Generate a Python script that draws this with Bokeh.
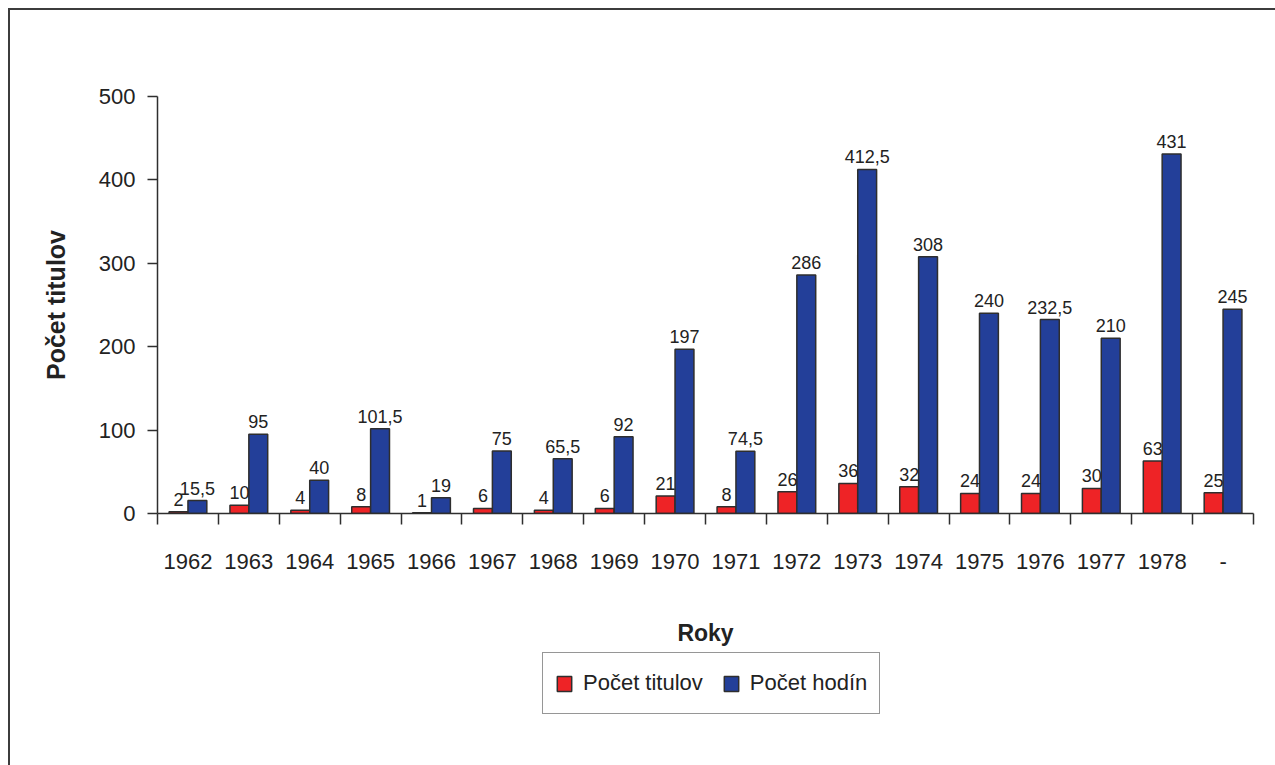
import numpy as np
from bokeh.plotting import figure
from bokeh.layouts import column
from bokeh.models import (Range1d, FixedTicker, ColumnDataSource, Legend, LegendItem, Label)
from bokeh.embed import file_html
from bokeh.resources import INLINE
from bokeh.core.properties import value

years = ["1962", "1963", "1964", "1965", "1966", "1967", "1968", "1969", "1970",
         "1971", "1972", "1973", "1974", "1975", "1976", "1977", "1978", "-"]
titulov = [2, 10, 4, 8, 1, 6, 4, 6, 21, 8, 26, 36, 32, 24, 24, 30, 63, 25]
hodin = [15.5, 95, 40, 101.5, 19, 75, 65.5, 92, 197, 74.5, 286, 412.5, 308, 240,
         232.5, 210, 431, 245]
y_ticks = [0, 100, 200, 300, 400, 500]
series_names = ["Počet titulov", "Počet hodín"]
x_title = "Roky"
y_title = "Počet titulov"

FONT = "'Liberation Sans Narrow', 'Arial Narrow', 'Liberation Sans', sans-serif"
BOLD = "'Liberation Sans', Arial, sans-serif"
RED = "#ee2326"
BLUE = "#233f99"
DARK = "#2e2e2e"
TXT = "#222222"


def fmt(v):
    return ("%g" % v).replace(".", ",")


idx = np.arange(len(years))
off = 0.155
bw = 0.31

src_r = ColumnDataSource(dict(x=idx - off, top=titulov, lab=[fmt(v) for v in titulov]))
src_b = ColumnDataSource(dict(x=idx + off, top=hodin, lab=[fmt(v) for v in hodin]))

p = figure(frame_width=1096, frame_height=417, output_backend="svg", toolbar_location=None,
           x_range=Range1d(-0.5, len(years) - 0.5), y_range=Range1d(0, 500),
           min_border_left=147, min_border_right=22, min_border_top=86,
           min_border_bottom=90)
p.outline_line_color = None
p.xgrid.visible = False
p.ygrid.visible = False
p.background_fill_color = "white"
p.border_fill_color = "white"

p.vbar(x="x", top="top", width=bw, source=src_r, fill_color=RED,
       line_color=DARK, line_width=1.5)
p.vbar(x="x", top="top", width=bw, source=src_b, fill_color=BLUE,
       line_color=DARK, line_width=1.5)

for src in (src_r, src_b):
    p.text(x="x", y="top", text="lab", source=src, text_align="center",
           text_baseline="bottom", y_offset=-6, text_font=value(FONT),
           text_font_size="18px", text_color=TXT)

# y axis
ya = p.yaxis[0]
ya.ticker = FixedTicker(ticks=y_ticks)
ya.axis_label = y_title
ya.axis_label_text_font = BOLD
ya.axis_label_text_font_style = "bold"
ya.axis_label_text_font_size = "25px"
ya.axis_label_text_color = TXT
ya.axis_label_standoff = 26
ya.major_label_text_font = FONT
ya.major_label_text_font_size = "22px"
ya.major_label_text_color = TXT
ya.major_label_standoff = 12
ya.major_tick_out = 10
ya.major_tick_in = 0
ya.minor_tick_out = 0
ya.minor_tick_in = 0
ya.axis_line_color = DARK
ya.axis_line_width = 1.5
ya.major_tick_line_color = DARK
ya.major_tick_line_width = 1.5

# x axis: labels at centres, ticks at category boundaries
xa = p.xaxis[0]
xa.ticker = FixedTicker(ticks=list(idx), minor_ticks=list(np.arange(len(years) + 1) - 0.5))
xa.major_label_overrides = {int(i): years[i] for i in idx}
xa.major_label_text_font = FONT
xa.major_label_text_font_size = "22px"
xa.major_label_text_color = TXT
xa.major_label_standoff = 29
xa.major_tick_out = 0
xa.major_tick_in = 0
xa.minor_tick_out = 11
xa.minor_tick_in = 0
xa.minor_tick_line_color = DARK
xa.minor_tick_line_width = 1.5
xa.axis_line_color = DARK
xa.axis_line_width = 1.5

# strip below the chart: x-axis title and legend
q = figure(width=1265, height=162, output_backend="svg", toolbar_location=None,
           x_axis_location=None, y_axis_location=None, min_border=0,
           x_range=Range1d(-0.5, len(years) - 0.5), y_range=Range1d(0, 500))
q.outline_line_color = None
q.xgrid.visible = False
q.ygrid.visible = False
q.border_fill_color = "white"
q.background_fill_color = "white"
lr = q.vbar(x="x", top="top", width=bw, source=src_r, fill_color=RED,
            line_color=DARK, line_width=1.5, visible=False)
lb = q.vbar(x="x", top="top", width=bw, source=src_b, fill_color=BLUE,
            line_color=DARK, line_width=1.5, visible=False)

q.add_layout(Label(x=548, y=133, x_units="screen", y_units="screen", text=x_title,
                   text_align="center", text_baseline="alphabetic",
                   text_font=BOLD, text_font_style="bold", text_font_size="23px",
                   text_color=TXT))

legend = Legend(items=[LegendItem(label=series_names[0], renderers=[lr]),
                       LegendItem(label=series_names[1], renderers=[lb])],
                location=(385, 51), orientation="horizontal")
legend.label_text_font = FONT
legend.label_text_font_size = "22px"
legend.label_text_color = TXT
legend.label_height = 36
legend.glyph_width = 18
legend.glyph_height = 19
legend.label_standoff = 10
legend.spacing = 19
legend.padding = 12
legend.margin = 0
legend.inactive_fill_alpha = 0
legend.border_line_color = DARK
legend.border_line_width = 1.5
legend.background_fill_color = "white"
legend.background_fill_alpha = 1
q.add_layout(legend)

layout = column(p, q, spacing=0)
layout.styles = {"margin-left": "8px", "margin-top": "8px",
                 "border-left": "2px solid #3c3c3c", "border-top": "2px solid #3c3c3c",
                 "background-color": "white"}

open("out.html", "w").write(file_html(layout, INLINE))
